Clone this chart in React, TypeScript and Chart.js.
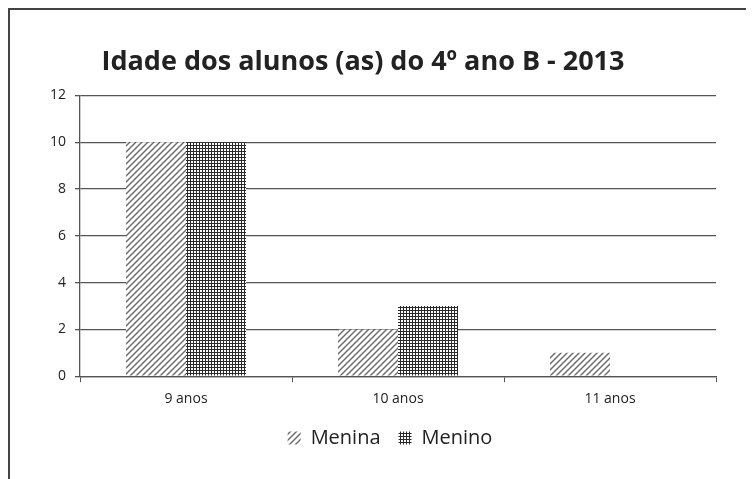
import React, { useEffect, useRef } from "react";
import { Chart, registerables } from "chart.js";

Chart.register(...registerables);

const TITLE = "Idade dos alunos (as) do 4º ano B - 2013";
const categories = ["9 anos", "10 anos", "11 anos"];
const meninaValues = [10, 2, 1];
const meninoValues = [10, 3, 0];
const seriesNames = ["Menina", "Menino"];
const yTicks = [0, 2, 4, 6, 8, 10, 12];

function makeDiagonal(): CanvasPattern | string {
  const c = document.createElement("canvas");
  c.width = 6;
  c.height = 6;
  const g = c.getContext("2d");
  if (!g) return "#999";
  g.fillStyle = "#ffffff";
  g.fillRect(0, 0, 6, 6);
  g.strokeStyle = "#6a6a6a";
  g.lineWidth = 1.4;
  for (let k = -1; k <= 1; k++) {
    g.beginPath();
    g.moveTo(k * 6 - 1, 7);
    g.lineTo(k * 6 + 7, -1);
    g.stroke();
  }
  const p = g.createPattern(c, "repeat");
  return p || "#999";
}

function makeGrid(): CanvasPattern | string {
  const c = document.createElement("canvas");
  c.width = 3;
  c.height = 3;
  const g = c.getContext("2d");
  if (!g) return "#333";
  g.fillStyle = "#ffffff";
  g.fillRect(0, 0, 3, 3);
  g.fillStyle = "#2a2a2a";
  g.fillRect(0, 0, 3, 1);
  g.fillRect(0, 0, 1, 3);
  const p = g.createPattern(c, "repeat");
  return p || "#333";
}

const legendShift = {
  id: "legendShift",
  afterLayout(chart: any) {
    if (chart.legend) {
      chart.legend.left += 27;
      chart.legend.right += 27;
    }
  },
};

export default function App() {
  const ref = useRef<HTMLCanvasElement | null>(null);
  useEffect(() => {
    if (!ref.current) return;
    const diag = makeDiagonal();
    const grid = makeGrid();
    const chart = new Chart(ref.current, {
      type: "bar",
      data: {
        labels: categories,
        datasets: [
          {
            label: seriesNames[0],
            data: meninaValues,
            backgroundColor: diag as any,
            borderWidth: 0,
            categoryPercentage: 0.566,
            barPercentage: 1,
          },
          {
            label: seriesNames[1],
            data: meninoValues,
            backgroundColor: grid as any,
            borderWidth: 0,
            categoryPercentage: 0.566,
            barPercentage: 1,
          },
        ],
      },
      plugins: [legendShift],
      options: {
        animation: false,
        responsive: false,
        maintainAspectRatio: false,
        layout: { padding: { left: 0, right: 40, top: 20, bottom: 23 } },
        plugins: {
          tooltip: { enabled: false },
          title: {
            display: true,
            text: TITLE,
            color: "#222",
            font: { family: "Open Sans", size: 27, weight: "bold" },
            padding: { top: 16, bottom: 17 },
          },
          legend: {
            position: "bottom",
            labels: {
              color: "#222",
              font: { family: "Open Sans", size: 20 },
              boxWidth: 13,
              boxHeight: 13,
              padding: 18,
            },
          },
        },
        scales: {
          x: {
            afterFit: (s: any) => {
              s.height = s.height - 5;
            },
            grid: {
              display: true,
              drawOnChartArea: false,
              drawTicks: true,
              tickLength: 6,
              color: "#555",
              offset: true,
            },
            border: { display: true, color: "#555", width: 1.3 },
            ticks: {
              color: "#222",
              font: { family: "Open Sans", size: 14 },
              padding: 8,
            },
          },
          y: {
            min: 0,
            max: 12,
            afterBuildTicks: (s: any) => {
              s.ticks = yTicks.map((v) => ({ value: v }));
            },
            afterFit: (s: any) => {
              s.width = 70;
            },
            grid: {
              color: "#555",
              lineWidth: 1.3,
              drawTicks: true,
              tickLength: 5,
            },
            border: { display: true, color: "#555", width: 1.3 },
            ticks: {
              color: "#222",
              font: { family: "Open Sans", size: 14 },
              padding: 9,
            },
          },
        },
      },
    });
    return () => chart.destroy();
  }, []);
  return (
    <div
      style={{
        borderLeft: "2px solid #444",
        borderTop: "2px solid #444",
        width: 746,
        height: 471,
        background: "#fff",
      }}
    >
      <canvas ref={ref} width={746} height={471} style={{ display: "block" }} />
    </div>
  );
}
